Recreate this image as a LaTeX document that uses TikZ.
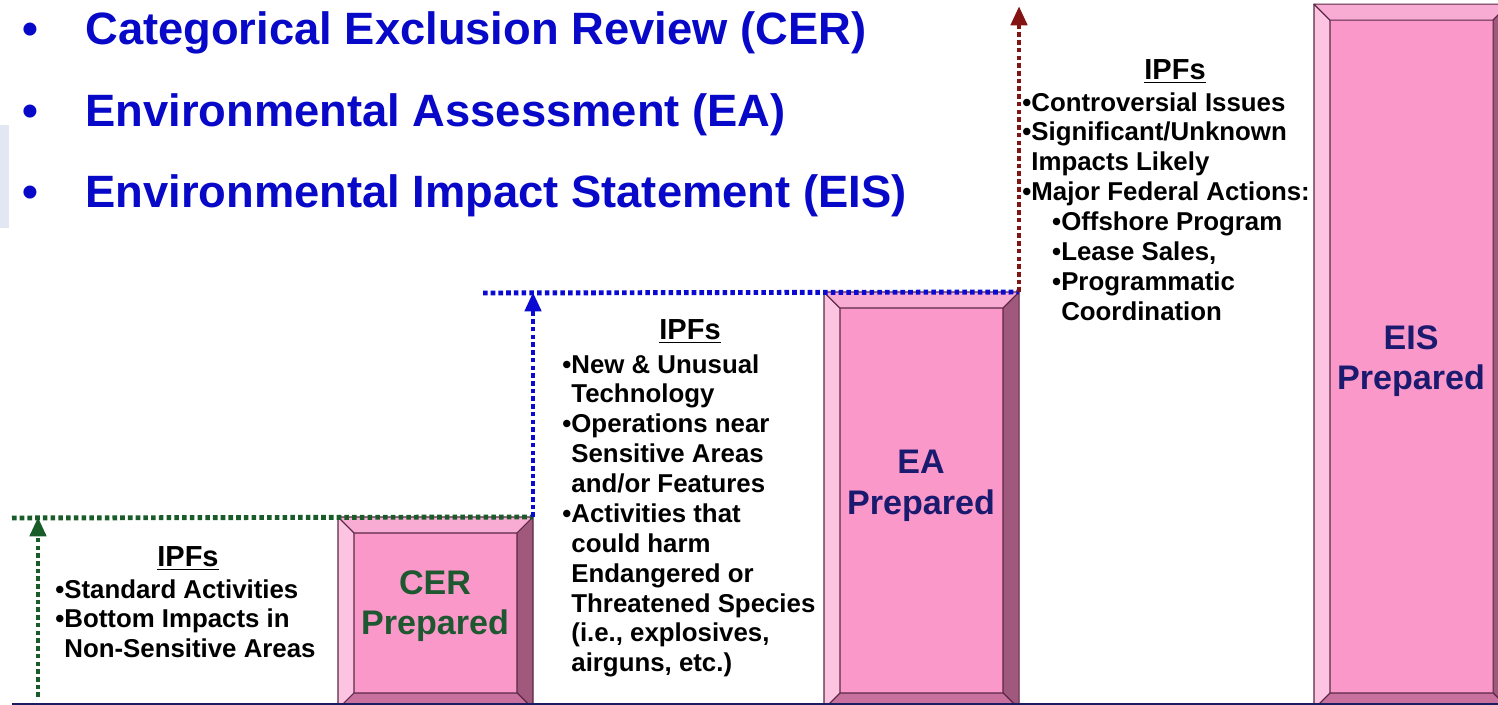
\documentclass[tikz,border=0pt]{standalone}
\usepackage{fontspec}
\setmainfont{Liberation Sans}
\usetikzlibrary{arrows.meta}
\definecolor{headblue}{RGB}{8,8,200}
\definecolor{cergreen}{RGB}{30,88,48}
\definecolor{dotgreen}{RGB}{25,92,42}
\definecolor{dotblue}{RGB}{10,10,210}
\definecolor{dotred}{RGB}{130,20,20}
\definecolor{navytext}{RGB}{26,26,110}
\definecolor{groundnavy}{RGB}{28,28,100}
\definecolor{facepink}{RGB}{250,152,202}
\definecolor{bevelleft}{RGB}{252,196,224}
\definecolor{beveltop}{RGB}{248,172,212}
\definecolor{bevelright}{RGB}{160,88,124}
\definecolor{bevelbottom}{RGB}{200,112,158}
\definecolor{edgeline}{RGB}{90,40,70}
\definecolor{slideedge}{RGB}{226,231,243}
\tikzstyle{heading} = [anchor=base west, inner sep=0, text=headblue, font=\fontsize{25.8}{30}\selectfont\bfseries]
\tikzstyle{stage} = [rectangle, anchor=south west, minimum width=3.88cm, inner sep=0, draw=edgeline, fill=facepink, line width=0.6pt]
\tikzstyle{stagelabel} = [align=center, inner sep=0, font=\fontsize{19.4}{23}\selectfont\bfseries]
\tikzstyle{ipfhead} = [anchor=base, inner sep=0, font=\fontsize{16.5}{20}\selectfont\bfseries]
\tikzstyle{ipflist} = [anchor=north west, inner sep=0, align=left, font=\fontsize{14.7}{17}\selectfont\bfseries]
\tikzstyle{dots} = [line width=2.8pt, dash pattern=on 2.6pt off 1.8pt]
\tikzstyle{arrow} = [-{Triangle[length=11pt, width=9pt]}]
\tikzstyle{bevel} = [draw=edgeline, line width=0.6pt, line join=round]
\begin{document}
\begin{tikzpicture}[x=0.02cm, y=-0.02cm]
\useasboundingbox (0,0) rectangle (1498,705);
\clip (0,0) rectangle (1498,705);
\fill[white] (0,0) rectangle (1498,705);
\fill[slideedge] (0,125) rectangle (9,228);

\node (bulletone) [heading] at (22,45) {•};
\node (cerline) [heading] at (85,45) {Categorical Exclusion Review (CER)};
\node (bullettwo) [heading] at (22,127) {•};
\node (ealine) [heading] at (85,127) {Environmental Assessment (EA)};
\node (bulletthree) [heading] at (22,208) {•};
\node (eisline) [heading] at (85,208) {Environmental Impact Statement (EIS)};

\node (cer) [stage, minimum height=3.82cm] at (338,709) {};
\node (ea) [stage, minimum height=8.32cm] at (824,709) {};
\node (eis) [stage, minimum height=14.08cm] at (1314,709) {};
\foreach \b in {cer, ea, eis} {
  \filldraw[bevel, fill=bevelleft] (\b.north west) -- ([shift={(16,16)}]\b.north west) -- ([shift={(16,-16)}]\b.south west) -- (\b.south west) -- cycle;
  \filldraw[bevel, fill=beveltop] (\b.north west) -- (\b.north east) -- ([shift={(-16,16)}]\b.north east) -- ([shift={(16,16)}]\b.north west) -- cycle;
  \filldraw[bevel, fill=bevelright] (\b.north east) -- (\b.south east) -- ([shift={(-16,-16)}]\b.south east) -- ([shift={(-16,16)}]\b.north east) -- cycle;
  \filldraw[bevel, fill=bevelbottom] (\b.south west) -- ([shift={(16,-16)}]\b.south west) -- ([shift={(-16,-16)}]\b.south east) -- (\b.south east) -- cycle;
}
\node (cerlabel) [stagelabel, text=cergreen] at (435,606) {CER\\Prepared};
\node (ealabel) [stagelabel, text=navytext] at (921,486) {EA\\Prepared};
\node (eislabel) [stagelabel, text=navytext] at (1411,361) {EIS\\Prepared};

\node (ipfone) [ipfhead] at (188,567) {\underline{IPFs}};
\node (ipfonelist) [ipflist] at (55,579) {•Standard Activities\\
•Bottom Impacts in\\
\phantom{•}Non-Sensitive Areas};
\node (ipftwo) [ipfhead] at (690,340) {\underline{IPFs}};
\node (ipftwolist) [ipflist] at (562,354) {•New \& Unusual\\
\phantom{•}Technology\\
•Operations near\\
\phantom{•}Sensitive Areas\\
\phantom{•}and/or Features\\
•Activities that\\
\phantom{•}could harm\\
\phantom{•}Endangered or\\
\phantom{•}Threatened Species\\
\phantom{•}(i.e., explosives,\\
\phantom{•}airguns, etc.)};
\node (ipfthree) [ipfhead] at (1175,80) {\underline{IPFs}};
\node (ipfthreelist) [ipflist] at (1022,92) {•Controversial Issues\\
•Significant/Unknown\\
\phantom{•}Impacts Likely\\
•Major Federal Actions:\\
\hspace*{17pt}•Offshore Program\\
\hspace*{17pt}•Lease Sales,\\
\hspace*{17pt}•Programmatic\\
\hspace*{17pt}\phantom{•}Coordination};

\coordinate (greenfoot) at (38,697);
\coordinate (greenleft) at (12,518);
\coordinate (blueleft) at (483,293);
\coordinate (redtop) at (1015,6);
\coordinate (groundleft) at (12,704);
\coordinate (groundright) at (1498,704);
\draw [dots, dotgreen] (greenleft) -- (cer.north east);
\draw [dots, dotgreen, arrow] (greenfoot) -- (greenfoot |- cer.north);
\draw [dots, dotblue] (blueleft) -- (ea.north east);
\draw [dots, dotblue, arrow] (cer.north east) -- (cer.north east |- ea.north);
\draw [dots, dotred, arrow] (ea.north east) -- (ea.north east |- redtop);
\draw [groundnavy, line width=1.6pt] (groundleft) -- (groundright);
\end{tikzpicture}
\end{document}
